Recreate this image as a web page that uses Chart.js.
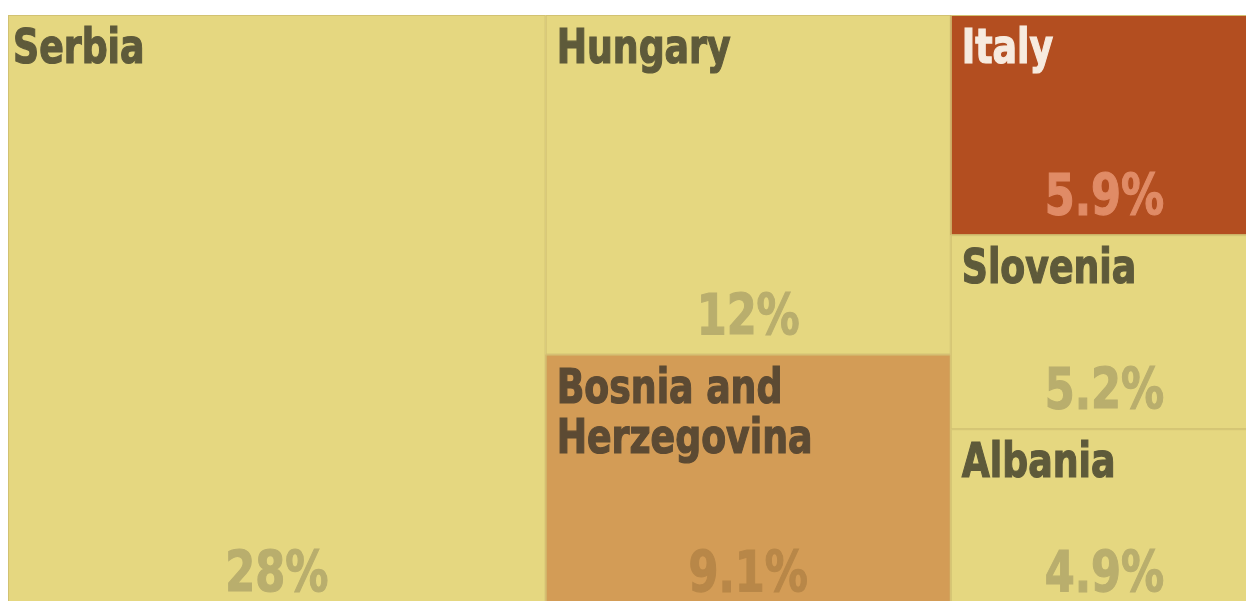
<!DOCTYPE html>
<html>
<head>
<meta charset="utf-8">
<script src="https://cdn.jsdelivr.net/npm/chart.js@4.4.1/dist/chart.umd.min.js"></script>
<style>
  body { margin: 0; background: #fff; overflow: hidden; }
  #wrap { position: relative; width: 1260px; height: 615px; }
</style>
</head>
<body>
<div id="wrap"><canvas id="myChart"></canvas></div>
<script>
// ---------------- data ----------------
var countries = ['Serbia', 'Hungary', 'Bosnia and\nHerzegovina', 'Italy', 'Slovenia', 'Albania'];
var shares = [28, 12, 9.1, 5.9, 5.2, 4.9];
var shareLabels = ['28%', '12%', '9.1%', '5.9%', '5.2%', '4.9%'];
var fills = ['#e5d780', '#e5d780', '#d39c56', '#b34e20', '#e5d780', '#e5d780'];
var nameColors = ['#5e5a3a', '#5e5a3a', '#5c4a33', '#f7ebdf', '#5e5a3a', '#5e5a3a'];
var pctColors = ['#b9ae6d', '#b9ae6d', '#b88748', '#e08b66', '#b9ae6d', '#b9ae6d'];

var FONT = "'DejaVu Sans Condensed', 'DejaVu Sans', sans-serif";

// squarified layout in data units (x 0..100, y 0..100), aspect taken from pixels
function squarify(values, kx, ky) {
  var total = values.reduce(function (a, b) { return a + b; }, 0);
  var rects = [];
  var box = { x: 0, y: 0, w: 100, h: 100 };
  var rest = total;
  var i = 0;
  function worst(row, sum, side) {
    var areaPx = box.w * kx * box.h * ky;
    var thick = (sum / rest) * areaPx / side;
    var w = 0;
    row.forEach(function (v) {
      var len = (v / sum) * side;
      w = Math.max(w, len / thick, thick / len);
    });
    return w;
  }
  while (i < values.length) {
    var vertical = box.w * kx >= box.h * ky; // row lies along the height
    var side = vertical ? box.h * ky : box.w * kx;
    var row = [values[i]];
    var sum = values[i];
    var j = i + 1;
    while (j < values.length) {
      var next = row.concat([values[j]]);
      if (worst(next, sum + values[j], side) <= worst(row, sum, side)) {
        row = next; sum += values[j]; j++;
      } else break;
    }
    var frac = sum / rest;
    var off = 0;
    row.forEach(function (v, k) {
      var part = v / sum;
      if (vertical) {
        rects[i + k] = { x0: box.x, x1: box.x + box.w * frac, y0: box.y + box.h * off, y1: box.y + box.h * (off + part) };
      } else {
        rects[i + k] = { x0: box.x + box.w * off, x1: box.x + box.w * (off + part), y0: box.y, y1: box.y + box.h * frac };
      }
      off += part;
    });
    if (vertical) { box.x += box.w * frac; box.w -= box.w * frac; }
    else { box.y += box.h * frac; box.h -= box.h * frac; }
    rest -= sum;
    i = j;
  }
  return rects;
}

// condensed text: squeeze horizontally around the anchor point
function squeezeText(ctx, txt, x, y, sx) {
  ctx.save();
  ctx.translate(x, y);
  ctx.scale(sx, 1);
  ctx.fillText(txt, 0, 0);
  ctx.strokeText(txt, 0, 0);
  ctx.restore();
}

const treemapPlugin = {
  id: 'treemapCells',
  afterDatasetsDraw(chart) {
    const ctx = chart.ctx;
    const xs = chart.scales.x, ys = chart.scales.y;
    const area = chart.chartArea;
    const rects = squarify(shares, (area.right - area.left) / 100, (area.bottom - area.top) / 100);
    rects.forEach(function (r, i) {
      const left = xs.getPixelForValue(r.x0), right = xs.getPixelForValue(r.x1);
      const top = ys.getPixelForValue(r.y0), bottom = ys.getPixelForValue(r.y1);
      ctx.save();
      ctx.fillStyle = fills[i];
      ctx.fillRect(left, top, right - left, bottom - top);
      ctx.strokeStyle = '#d2c272';
      ctx.lineWidth = 1;
      ctx.strokeRect(left + 0.5, top + 0.5, right - left - 1, bottom - top - 1);

      // country name
      ctx.fillStyle = nameColors[i];
      ctx.strokeStyle = nameColors[i];
      ctx.lineWidth = 1.2;
      ctx.font = 'bold 48px ' + FONT;
      ctx.textAlign = 'left';
      ctx.textBaseline = 'alphabetic';
      countries[i].split('\n').forEach(function (line, k) {
        squeezeText(ctx, line, left + (i === 0 ? 5 : 11), top + 48 + k * 50, 0.84);
      });

      // share
      ctx.fillStyle = pctColors[i];
      ctx.strokeStyle = pctColors[i];
      ctx.font = 'bold 57px ' + FONT;
      ctx.textAlign = 'center';
      squeezeText(ctx, shareLabels[i], (left + right) / 2, bottom - 20, 0.84);
      ctx.restore();
    });
  }
};

const drawChart = new Chart(document.getElementById('myChart'), {
  type: 'scatter',
  data: { datasets: [{ data: [] }] },
  options: {
    responsive: true,
    maintainAspectRatio: false,
    animation: false,
    layout: { padding: { left: 8, top: 15, right: 2, bottom: 3 } },
    scales: {
      x: { display: false, min: 0, max: 100 },
      y: { display: false, min: 0, max: 100, reverse: true }
    },
    plugins: { legend: { display: false }, tooltip: { enabled: false } }
  },
  plugins: [treemapPlugin]
});
</script>
</body>
</html>
